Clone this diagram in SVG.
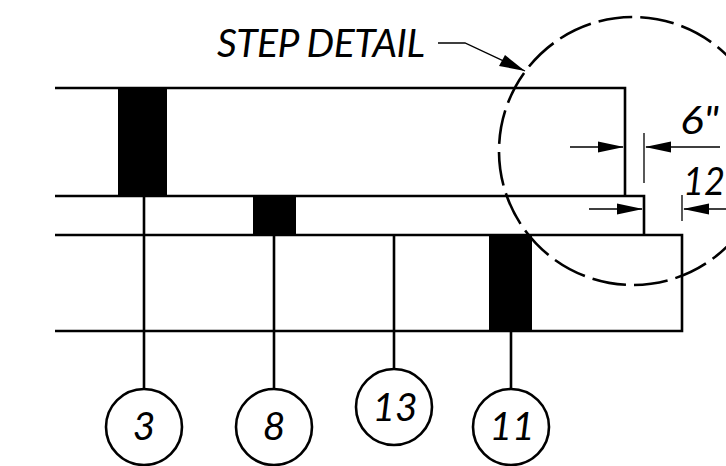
<svg xmlns="http://www.w3.org/2000/svg" width="726" height="466" viewBox="0 0 726 466">
<style>
.l{fill:none;stroke:#000;stroke-width:2.6}
.t{fill:none;stroke:#000;stroke-width:1.3}
.f{fill:#000}
.b{fill:#fff;stroke:#000;stroke-width:2.6}
text{font-family:Lato,"Open Sans",sans-serif;font-style:italic;fill:#000}
.n{font-size:39px;text-anchor:middle}
</style>
<rect width="726" height="466" fill="#fff"/>
<g id="body">
<path class="l" d="M55 88H625V196M55 196H644V235M55 235H682V331H55"/>
<rect class="f" x="118" y="88" width="49" height="108"/>
<rect class="f" x="253" y="196" width="43" height="39"/>
<rect class="f" x="489" y="235" width="43" height="96"/>
</g>
<g id="connectors">
<path class="l" d="M144 196V389M274 235V389M394 235V369M511 331V389"/>
<path class="t" d="M438 43H465L525 71"/>
<polygon class="f" points="525,71 499,66 505,55"/>
<path class="t" d="M570 147H623M644 133V183M720 147H646M589 209H642M682 195V221M726 209H684"/>
<polygon class="f" points="624,147 598,141.5 598,152.5"/>
<polygon class="f" points="645,147 671,141.5 671,152.5"/>
<polygon class="f" points="643,209 617,203.5 617,214.5"/>
<polygon class="f" points="683,209 709,203.5 709,214.5"/>
</g>
<g id="detail-circle">
<circle class="l" cx="633" cy="151" r="134" stroke-dasharray="34 8.1" stroke-dashoffset="-7"/>
</g>
<g id="label-step"><text x="217" y="57" font-size="39" textLength="208">STEP DETAIL</text></g>
<g id="dim-6"><text x="680" y="134" font-size="39" textLength="39" lengthAdjust="spacingAndGlyphs">6"</text></g>
<g id="dim-12"><text x="683" y="195" font-size="38" textLength="42" lengthAdjust="spacingAndGlyphs">12</text></g>
<g id="node-3"><circle class="b" cx="144" cy="427" r="38"/><text class="n" x="144" y="440">3</text></g>
<g id="node-8"><circle class="b" cx="274" cy="427" r="38"/><text class="n" x="274" y="440">8</text></g>
<g id="node-13"><circle class="b" cx="394" cy="407" r="38"/><text class="n" x="395" y="421">13</text></g>
<g id="node-11"><circle class="b" cx="511" cy="427" r="38"/><text class="n" x="512" y="440">11</text></g>
</svg>
